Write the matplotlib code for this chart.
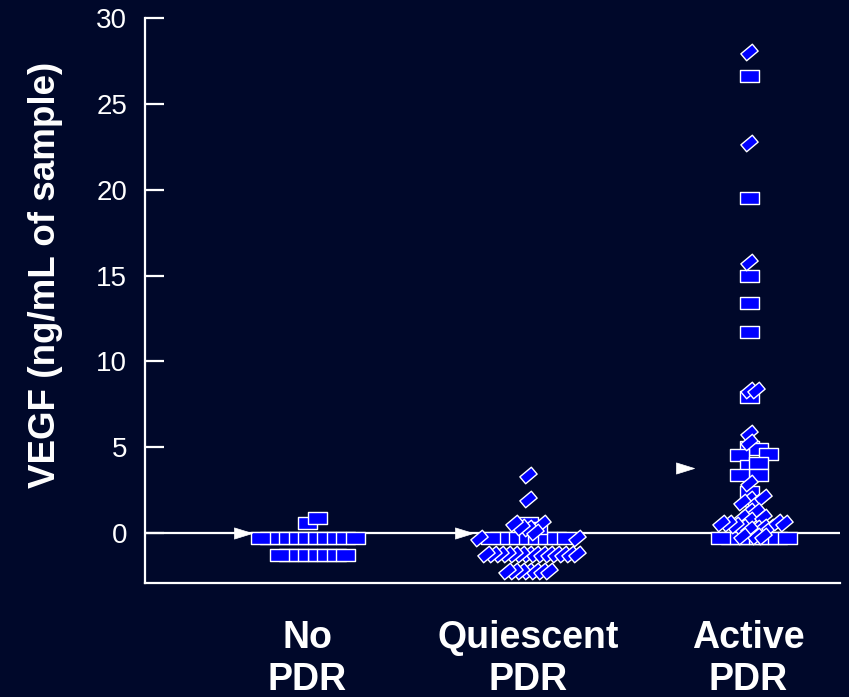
import matplotlib
matplotlib.use('Agg')
import matplotlib.pyplot as plt
import numpy as np
from matplotlib.path import Path

# data (VEGF, ng/mL of sample)
categories = ['No\nPDR', 'Quiescent\nPDR', 'Active\nPDR']

no_pdr_sq = [-0.3, -0.3, -0.3, -0.3, -0.3, -0.3, -0.3, -0.3, -0.3, -0.3, -0.3,
             -1.3, -1.3, -1.3, -1.3, -1.3, -1.3, -1.3, -1.3, 0.6, 0.85]
no_pdr_dm = []

quies_sq = [-0.3, -0.3, -0.3, -0.3, -0.3, -0.3, -0.3, -0.3, -0.3, 0.6, 0.3]
quies_dm = [3.4, 2.0, 0.58, 0.3, 0.06, 0.35, 0.58, -0.3, -0.3,
            -1.2, -1.2, -1.2, -1.2, -1.2, -1.2, -1.2, -1.2, -1.2, -1.2, -1.2, -1.2, -1.2, -1.2,
            -2.2, -2.2, -2.2, -2.2, -2.2, -2.2, -2.2]

active_sq = [26.6, 19.5, 15.0, 13.4, 11.7, 7.9, 5.0, 4.9, 4.55, 4.6, 3.9, 4.1, 3.4, 3.4, 2.4,
             -0.3, -0.3, -0.3, -0.3, -0.3, -0.3, -0.3, -0.3]
active_dm = [28.0, 22.7, 15.8, 8.3, 8.3, 5.8, 5.3, 2.9, 2.0, 1.8, 1.8, 2.1, 1.3, 1.3,
             0.9, 0.75, 0.9, 0.3, 0.35, 0.35, 0.2, 0.45, -0.2, -0.2, 0.35, -0.2,
             0.6, 0.65, 0.6, 0.55]

medians = [0.0, 0.0, 3.8]

groups = [(no_pdr_sq, no_pdr_dm), (quies_sq, quies_dm), (active_sq, active_dm)]

BG = '#00082a'
BLUE = '#0000ff'
DPI = 100


def rect_marker(w, h, angle=0.0):
    a = np.deg2rad(angle)
    rot = np.array([[np.cos(a), -np.sin(a)], [np.sin(a), np.cos(a)]])
    pts = np.array([[-w / 2, -h / 2], [w / 2, -h / 2], [w / 2, h / 2], [-w / 2, h / 2]]) @ rot.T
    verts = np.vstack([pts, pts[:1]])
    codes = [Path.MOVETO, Path.LINETO, Path.LINETO, Path.LINETO, Path.CLOSEPOLY]
    size_pt = 2 * np.abs(verts).max() * 72 / DPI
    return Path(verts, codes), size_pt


sq_path, sq_size = rect_marker(19, 13)
dm_path, dm_size = rect_marker(15, 9, 40)
arrow_path = Path([[-1, 0.62], [1, 0], [-1, -0.62], [-1, 0.62]],
                  [Path.MOVETO, Path.LINETO, Path.LINETO, Path.CLOSEPOLY])

plt.rcParams['font.family'] = ['Liberation Sans', 'DejaVu Sans']

fig = plt.figure(figsize=(8.49, 6.97), dpi=DPI, facecolor=BG)
ax = fig.add_axes([0.171, 0.164, 0.818, 0.810], facecolor=BG)
ax.set_xlim(0.265, 3.413)
ax.set_ylim(-2.9, 30)

# pixel scales for the swarm layout
p0 = ax.transData.transform((0, 0))
p1 = ax.transData.transform((1, 1))
px_x, px_y = p1 - p0


def swarm(values, step, sy, others=()):
    # greedy beeswarm: each point goes to the nearest free slot, right side first;
    # "others" are already placed marks of the other shape, avoided only on the same row
    placed = []
    xs = []
    for v in values:
        y = v * px_y
        for k in range(80):
            dx = step * ((k + 1) // 2) * (1 if k % 2 else -1)
            free = all(not (abs(dx - qx) < step * 0.99 and abs(y - qy) < sy) for qx, qy in placed)
            free = free and all(not (abs(dx - qx) < 9 and abs(y - qy) < 1) for qx, qy in others)
            if free:
                break
        placed.append((dx, y))
        xs.append(dx / px_x)
    return np.array(xs), placed


ax.axhline(0, color='white', lw=1.6, zorder=1)

for i, (sq, dm) in enumerate(groups):
    center = i + 1
    sq_off, sq_placed = swarm(sq, 9.5, 10.0)
    if len(sq):
        ax.scatter(center + sq_off, sq, marker=sq_path, s=sq_size ** 2,
                   facecolor=BLUE, edgecolor='white', linewidths=1.0, zorder=3)
    if len(dm):
        dm_off, _ = swarm(dm, 7.0, 8.0, sq_placed)
        ax.scatter(center + dm_off, dm, marker=dm_path, s=dm_size ** 2,
                   facecolor=BLUE, edgecolor='white', linewidths=1.0, zorder=4)

# median arrows
ax.scatter(np.arange(1, 4) - 0.29, medians, marker=arrow_path, s=(18 * 0.72) ** 2,
           facecolor='white', edgecolor='white', linewidths=0.5, zorder=5)

for side in ['top', 'right']:
    ax.spines[side].set_visible(False)
for side in ['left', 'bottom']:
    ax.spines[side].set_color('white')
    ax.spines[side].set_linewidth(1.6)

ax.set_yticks(np.arange(0, 31, 5))
ax.tick_params(axis='y', direction='in', length=14, width=1.6, colors='white',
               labelsize=20, pad=13)
ax.set_xticks([1, 2, 3])
ax.set_xticklabels(categories, fontsize=27, fontweight='bold', color='white',
                   linespacing=1.2)
ax.tick_params(axis='x', length=0, pad=27)

ax.set_ylabel('VEGF (ng/mL of sample)', fontsize=26.5, fontweight='bold', color='white')
ax.yaxis.set_label_coords(-0.119, 0.545)

fig.savefig('out.png', dpi=DPI, facecolor=BG)
